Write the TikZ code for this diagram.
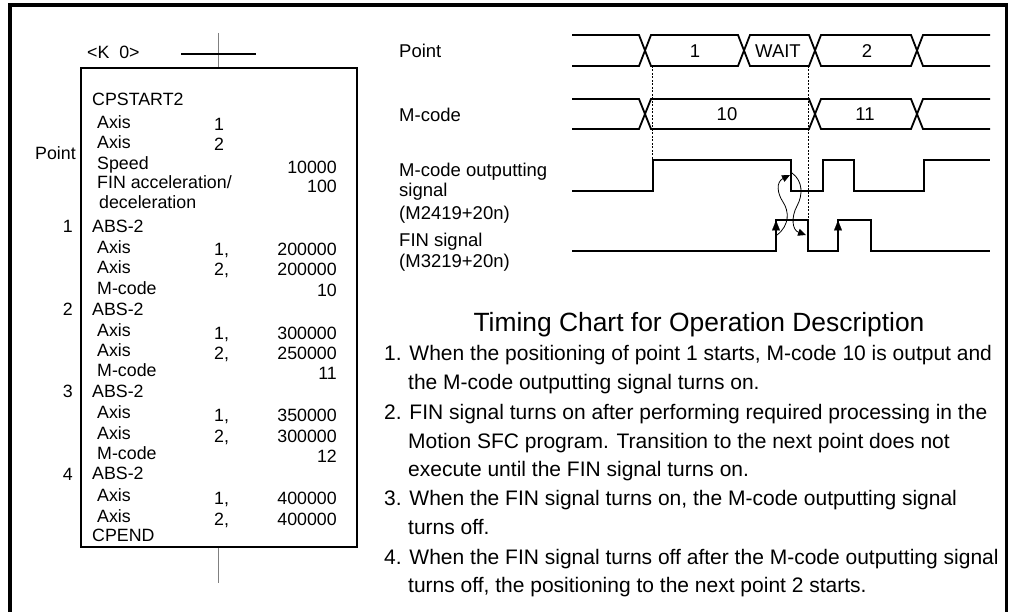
\documentclass[tikz,border=0pt]{standalone}
\usepackage{fontspec}
\setmainfont{Liberation Sans}
\usetikzlibrary{arrows.meta}
\tikzset{
  bx/.style={inner sep=0, anchor=base west, font=\fontsize{17.8}{20}\selectfont},
  bxr/.style={inner sep=0, anchor=base east, font=\fontsize{17.8}{20}\selectfont},
  tl/.style={inner sep=0, anchor=base west, font=\fontsize{18.5}{21}\selectfont},
  tc/.style={inner sep=0, anchor=base, font=\fontsize{18.5}{21}\selectfont},
  body/.style={inner sep=0, anchor=base west, font=\fontsize{21}{29}\selectfont},
  bus/.style={line width=1.8, line join=miter},
  sig/.style={line width=2.2, line join=miter},
  guide/.style={dashed, dash pattern=on 2pt off 1.5pt, line width=0.7},
  cross/.style={line width=0.8, -{Triangle[length=8,width=7]}},
  edgearrow/.style={-{Triangle[length=10,width=8]}, line width=0.1}
}
\begin{document}
\begin{tikzpicture}[x=1pt,y=-1pt]
\useasboundingbox (0,0) rectangle (1009,612);
% frame
\coordinate (f1) at (10,612); \coordinate (f2) at (10,5);
\coordinate (f3) at (1006.5,5); \coordinate (f4) at (1006.5,612);
\draw[line width=3.5, line join=miter] (f1) -- (f2) -- (f3) -- (f4);

% ---------- program box ----------
\node[draw, line width=1.8, minimum width=276, minimum height=479, inner sep=0] (box) at (219,307.5) {};
\coordinate (vt) at (218,33);
\coordinate (vb) at (218,583);
\draw[gray, line width=1] (vt) -- (vt |- box.north);
\draw[gray, line width=1] (vt |- box.south) -- (vb);
\coordinate (hl) at (181,54); \coordinate (hr) at (256,54);
\draw[line width=1.2] (hl) -- (hr);
\node[bx] (k0) at (87,58.5) {\textless K\ \ 0\textgreater};
\node[bxr] (pt) at (76,159.4) {Point};

\foreach \t/\xx/\yy [count=\i] in {CPSTART2/92/105.4, Axis/97/128.4, Axis/97/148.4, Speed/97/169.4,
  deceleration/99/208.4, ABS-2/92/232.4, Axis/97/253.4, Axis/97/273.4, M-code/97/294.4,
  ABS-2/92/315.4, Axis/97/336.4, Axis/97/356.4, M-code/97/376.4,
  ABS-2/92/397.4, Axis/97/418.4, Axis/97/439.4, M-code/97/459.4,
  ABS-2/92/479.4, Axis/97/501.4, Axis/97/522.4, CPEND/92/541.4}
  \node[bx] (L\i) at (\xx,\yy) {\t};
\node[bx] (Lfin) at (97,188.4) {FIN acceleration/};

\foreach \t/\yy [count=\i] in {1/131, 2/151, {1,}/256, {2,}/276, {1,}/339, {2,}/359, {1,}/421, {2,}/442, {1,}/504, {2,}/525}
  \node[bx] (M\i) at (214,\yy) {\t};

\foreach \t/\yy [count=\i] in {10000/174, 100/193, 200000/256, 200000/276, 10/297, 300000/339, 250000/359, 11/379, 350000/421, 300000/442, 12/462, 400000/504, 400000/525}
  \node[bxr] (V\i) at (337,\yy) {\t};

\foreach \t/\yy [count=\i] in {1/232.4, 2/315.4, 3/397.4, 4/480}
  \node[bxr] (P\i) at (73,\yy) {\t};

% ---------- timing chart labels ----------
\node[tl] (tPoint) at (399,57.6) {Point};
\node[tl] (tMcode) at (399,121.6) {M-code};
\node[tl] (tMo1) at (399,176.6) {M-code outputting};
\node[tl] (tMo2) at (399,196.6) {signal};
\node[tl] (tMo3) at (399,219.6) {(M2419+20n)};
\node[tl] (tFin1) at (399,246.6) {FIN signal};
\node[tl] (tFin2) at (399,267.6) {(M3219+20n)};

% Point bus
\coordinate (pa0) at (572,35);
\draw[bus] (pa0) -- (639,35) -- (651,66) -- (738,66) -- (750,35) -- (809,35) -- (821,66) -- (911,66) -- (923,35) -- (990,35);
\coordinate (pb0) at (572,66);
\draw[bus] (pb0) -- (639,66) -- (651,35) -- (738,35) -- (750,66) -- (809,66) -- (821,35) -- (911,35) -- (923,66) -- (990,66);
\node[tc] (v1) at (695,57.3) {1};
\node[tc] (vW) at (778,57.3) {WAIT};
\node[tc] (v2) at (867,57.3) {2};

% M-code bus
\coordinate (ma0) at (572,99);
\draw[bus] (ma0) -- (639,99) -- (651,129) -- (809,129) -- (821,99) -- (911,99) -- (923,129) -- (990,129);
\coordinate (mb0) at (572,129);
\draw[bus] (mb0) -- (639,129) -- (651,99) -- (809,99) -- (821,129) -- (911,129) -- (923,99) -- (990,99);
\node[tc] (v10) at (727,120.8) {10};
\node[tc] (v11) at (865,120.8) {11};

% dashed guides
\coordinate (g1t) at (652,66); \coordinate (g1b) at (652,160);
\draw[guide] (g1t) -- (g1b);
\coordinate (g2t) at (808,66); \coordinate (g2b) at (808,220);
\draw[guide] (g2t) -- (g2b);

% M-code outputting signal
\coordinate (s0) at (572,191);
\draw[sig] (s0) -- (653,191) -- (653,160) -- (791,160) -- (791,191) -- (823,191) -- (823,160) -- (854,160) -- (854,191) -- (924,191) -- (924,160) -- (990,160);

% FIN signal
\coordinate (fn0) at (572,251);
\draw[sig] (fn0) -- (776,251) -- (776,220) -- (808,220) -- (808,251) -- (838,251) -- (838,220) -- (871,220) -- (871,251) -- (990,251);

% arrows on FIN rising edges
\coordinate (ea1) at (776,236); \coordinate (eb1) at (776,220.5);
\draw[edgearrow] (ea1) -- (eb1);
\coordinate (ea2) at (838,236); \coordinate (eb2) at (838,220.5);
\draw[edgearrow] (ea2) -- (eb2);

% interlock curves
\coordinate (c1s) at (777,235); \coordinate (c1e) at (790,175);
\draw[cross] (c1s) .. controls (790,225) and (789,211) .. (783,202) .. controls (777,193) and (776,182) .. (c1e);
\coordinate (c2s) at (792,173); \coordinate (c2e) at (806,235);
\draw[cross] (c2s) .. controls (803,181) and (803,195) .. (797,206) .. controls (791,217) and (792,230) .. (c2e);

% ---------- description ----------
\node[inner sep=0, anchor=base, font=\fontsize{26.4}{30}\selectfont] (title) at (699,331.5) {Timing Chart for Operation Description};
\node[body] (d1) at (384,360.5) {1. When the positioning of point 1 starts, M-code 10 is output and};
\node[body] (d2) at (408,389.5) {the M-code outputting signal turns on.};
\node[body] (d3) at (384,419.5) {2. FIN signal turns on after performing required processing in the};
\node[body] (d4) at (408,448.5) {Motion SFC program. Transition to the next point does not};
\node[body] (d5) at (408,476.5) {execute until the FIN signal turns on.};
\node[body] (d6) at (384,505.5) {3. When the FIN signal turns on, the M-code outputting signal};
\node[body] (d7) at (408,534.5) {turns off.};
\node[body] (d8) at (384,564.5) {4. When the FIN signal turns off after the M-code outputting signal};
\node[body] (d9) at (408,592.5) {turns off, the positioning to the next point 2 starts.};
\end{tikzpicture}
\end{document}
